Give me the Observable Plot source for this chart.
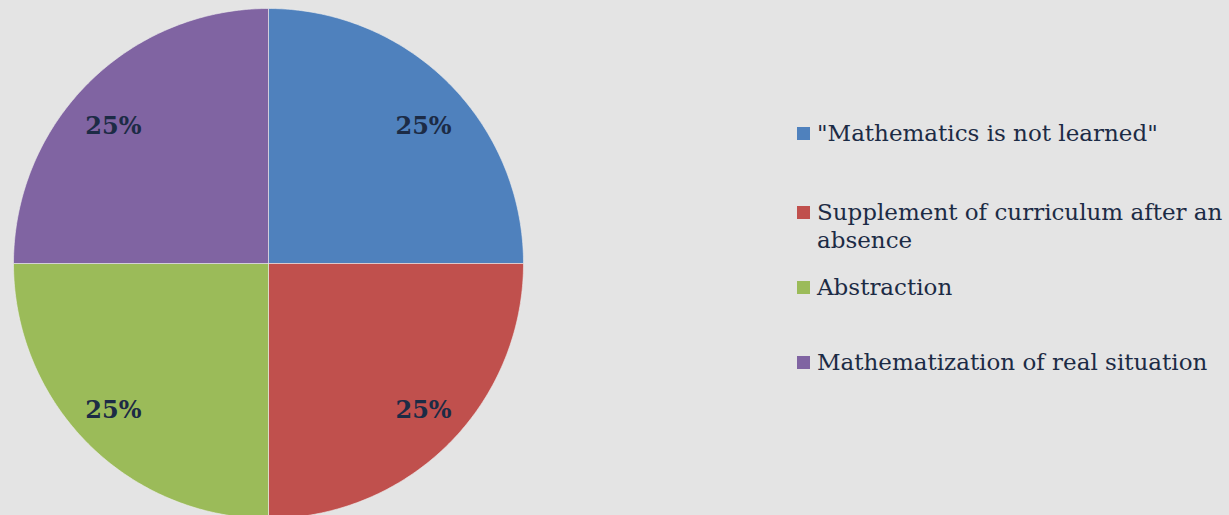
<!DOCTYPE html>
<html><head><meta charset="utf-8">
<script src="https://cdn.jsdelivr.net/npm/d3@7"></script>
<script src="https://cdn.jsdelivr.net/npm/@observablehq/plot@0.6"></script>
<style>
html,body{margin:0;padding:0;background:#e4e4e4;}
#wrap{position:relative;width:1229px;height:515px;overflow:hidden;background:#e4e4e4;}
#wrap svg{position:absolute;left:0;top:0;background:#e4e4e4;}
.item{position:absolute;left:797px;width:430px;font-family:"DejaVu Serif",Georgia,serif;font-size:23px;line-height:28px;color:#1c2b45;display:flex;align-items:flex-start;}
.sw{width:13px;height:13px;flex:none;margin-top:8px;margin-right:7px;}
</style></head><body><div id="wrap"></div><script>
const categories = ["\"Mathematics is not learned\"", "Supplement of curriculum after an absence", "Abstraction", "Mathematization of real situation"];
const values = [25, 25, 25, 25];
const labels = ["25%", "25%", "25%", "25%"];
const colors = ["#4f81bd", "#c0504d", "#9bbb59", "#8064a2"];
const legendTops = [119, 198, 273, 348];

const arcs = d3.pie().sort(null).value(d => d)(values);
const marks = [];
arcs.forEach((a, i) => {
  const pts = [{x: 0, y: 0}];
  const n = 120;
  for (let k = 0; k <= n; k++) {
    const t = a.startAngle + (a.endAngle - a.startAngle) * k / n;
    pts.push({x: Math.sin(t), y: Math.cos(t)});
  }
  pts.push({x: 0, y: 0});
  marks.push(Plot.line(pts, {x: "x", y: "y", fill: colors[i], stroke: "#eeeeee", strokeWidth: 0.6, curve: "linear"}));
});
const labelData = arcs.map((a, i) => {
  const m = (a.startAngle + a.endAngle) / 2;
  return {x: Math.sin(m) * 0.86, y: Math.cos(m) * 0.788, t: labels[i]};
});
marks.push(Plot.text(labelData, {x: "x", y: "y", dy: 5, text: "t", fontSize: 24, fontWeight: "bold", fill: "#1c2b45", fontFamily: "DejaVu Serif, Georgia, serif"}));

const chart = Plot.plot({
  width: 1229, height: 515, margin: 0,
  style: {background: "#e4e4e4"},
  x: {domain: [-1, 1], range: [13, 523], axis: null},
  y: {domain: [-1, 1], range: [518, 8], axis: null},
  marks
});
const wrap = document.getElementById("wrap");
wrap.appendChild(chart);
categories.forEach((c, i) => {
  const d = document.createElement("div");
  d.className = "item";
  d.style.top = legendTops[i] + "px";
  const s = document.createElement("span");
  s.className = "sw"; s.style.background = colors[i];
  const t = document.createElement("span");
  t.textContent = c;
  d.appendChild(s); d.appendChild(t);
  wrap.appendChild(d);
});
</script></body></html>
